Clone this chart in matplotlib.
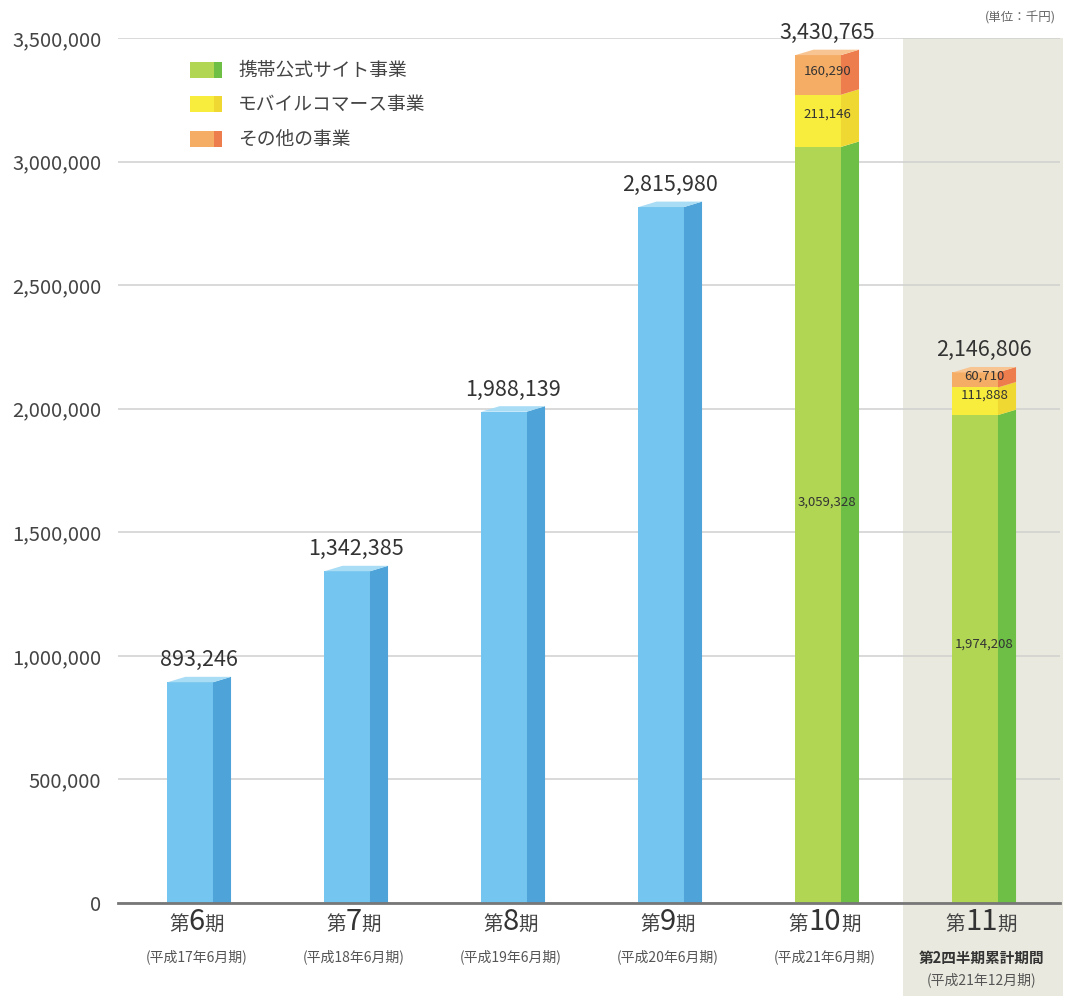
import matplotlib
matplotlib.use("Agg")
import matplotlib.pyplot as plt
from matplotlib.patches import Rectangle, Polygon
from matplotlib.offsetbox import TextArea, HPacker, VPacker, AnnotationBbox
from matplotlib.transforms import blended_transform_factory
from matplotlib.ticker import FuncFormatter

plt.rcParams['font.family'] = ['Noto Sans CJK JP', 'DejaVu Sans']

# ---- data (単位：千円) ----
periods = ["6", "7", "8", "9", "10", "11"]
period_notes = ["(平成17年6月期)", "(平成18年6月期)", "(平成19年6月期)",
                "(平成20年6月期)", "(平成21年6月期)", "(平成21年12月期)"]
extra_note_11 = "第2四半期累計期間"
totals = [893246, 1342385, 1988139, 2815980, 3430765, 2146806]
# segment breakdown for the last two periods
mobile_site = [3059328, 1974208]
mobile_commerce = [211146, 111888]
other_biz = [160290, 60710]
series_names = ["携帯公式サイト事業", "モバイルコマース事業", "その他の事業"]
unit_label = "(単位：千円)"
yticks = [0, 500000, 1000000, 1500000, 2000000, 2500000, 3000000, 3500000]

# ---- colours ----
blue = ("#74c5ef", "#4ea4d9", "#a9dcf5")
green = ("#b0d654", "#6dbf45", "#c8e37e")
yellow = ("#f8ec3c", "#efd832", "#fbf27a")
orange = ("#f5ad66", "#ee7d4e", "#f8c592")

W, H = 1065, 996
fig = plt.figure(figsize=(W / 100, H / 100), dpi=100)
ax = fig.add_axes([118 / W, 93 / H, (1060 - 118) / W, (903 - 38) / H])
ax.patch.set_visible(False)

ax.set_xlim(-0.5, 5.5)
ax.set_ylim(0, 3500000)
ax.set_yticks(yticks)
ax.yaxis.set_major_formatter(FuncFormatter(lambda v, p: f"{int(v):,}"))
ax.tick_params(axis='y', length=0, labelsize=14.5, labelcolor="#444444", pad=12)
ax.tick_params(axis='x', length=0, labelbottom=False)
ax.grid(axis='y', color="#cfcfcf", linewidth=1.1, zorder=1)
for s in ["top", "right", "left"]:
    ax.spines[s].set_visible(False)
ax.spines["bottom"].set_color("#777777")
ax.spines["bottom"].set_linewidth(2)
ax.spines["bottom"].set_zorder(5)
ax.set_axisbelow(True)

# shaded band behind the interim period
band_tf = blended_transform_factory(ax.transData, ax.transAxes)
ax.add_patch(Rectangle((4.5, -0.2), 1.02, 1.2, transform=band_tf, clip_on=False,
                       facecolor="#e9e9df", edgecolor="none", zorder=0))

# bar geometry (in category units)
f0, f1, s1 = -0.185, 0.105, 0.22
cap = 22000


def block(x, y0, y1, cols, top=False):
    ax.add_patch(Rectangle((x + f0, y0), f1 - f0, y1 - y0, facecolor=cols[0],
                           edgecolor="none", zorder=3))
    yb = y0 + cap if y0 > 0 else y0
    ax.add_patch(Polygon([(x + f1, y0), (x + s1, yb), (x + s1, y1 + cap), (x + f1, y1)],
                         closed=True, facecolor=cols[1], edgecolor="none", zorder=3))
    if top:
        ax.add_patch(Polygon([(x + f0, y1), (x + f1, y1), (x + s1, y1 + cap),
                              (x + f0 + (s1 - f1), y1 + cap)],
                             closed=True, facecolor=cols[2], edgecolor="none", zorder=3))


lab_x = (f0 + s1) / 2
for i in range(4):
    block(i, 0, totals[i], blue, top=True)

for j, i in enumerate([4, 5]):
    a = mobile_site[j]
    b = a + mobile_commerce[j]
    c = b + other_biz[j]
    block(i, 0, a, green)
    block(i, a, b, yellow)
    block(i, b, c, orange, top=True)
    ax.text(i + lab_x, a * 0.53, f"{mobile_site[j]:,}", ha='center', va='center',
            fontsize=9.5, color="#333333", zorder=6)
    ax.text(i + lab_x, (a + b) / 2 + 25000, f"{mobile_commerce[j]:,}", ha='center',
            va='center', fontsize=9.5, color="#333333", zorder=6)
    ax.text(i + lab_x, (b + c) / 2 + 15000, f"{other_biz[j]:,}", ha='center',
            va='center', fontsize=9.5, color="#333333", zorder=6)

for i, t in enumerate(totals):
    ax.text(i + lab_x, t + 45000, f"{t:,}", ha='center', va='bottom', fontsize=15.5,
            color="#333333", zorder=6, clip_on=False)

# category labels under the axis
for i, (p, note) in enumerate(zip(periods, period_notes)):
    head = HPacker(children=[
        TextArea("第", textprops=dict(fontsize=14, color="#444444")),
        TextArea(p, textprops=dict(fontsize=21, color="#333333")),
        TextArea("期", textprops=dict(fontsize=14, color="#444444")),
    ], align="baseline", pad=0, sep=0)
    note_box = TextArea(note, textprops=dict(fontsize=10, color="#555555"))
    if i == 5:
        extra = TextArea(extra_note_11, textprops=dict(fontsize=10.5, color="#333333",
                                                       fontweight="bold"))
        lower = VPacker(children=[extra, note_box], align="center", pad=0, sep=5)
    else:
        lower = note_box
    box = VPacker(children=[head, lower], align="center", pad=0, sep=9)
    ab = AnnotationBbox(box, (i, 0), xycoords=('data', 'axes fraction'),
                        xybox=(0, -3), boxcoords="offset points",
                        box_alignment=(0.5, 1), frameon=False, annotation_clip=False)
    ax.add_artist(ab)

# legend
leg_cols = [green[0], yellow[0], orange[0]]
leg_side = [green[1], yellow[1], orange[1]]
for k, (name, c, cs) in enumerate(zip(series_names, leg_cols, leg_side)):
    ytop = 62 + k * 34.5
    fig.add_artist(Rectangle((190 / W, 1 - (ytop + 16) / H), 24 / W, 16 / H,
                             transform=fig.transFigure, facecolor=c, edgecolor="none"))
    fig.add_artist(Rectangle((214 / W, 1 - (ytop + 16) / H), 8 / W, 16 / H,
                             transform=fig.transFigure, facecolor=cs, edgecolor="none"))
    fig.text(238 / W, 1 - (ytop + 8) / H, name, ha='left', va='center',
             fontsize=13.5, color="#444444")

fig.text(1056 / W, 1 - 18 / H, unit_label, ha='right', va='center', fontsize=9,
         color="#666666")

fig.savefig("out.png", dpi=100, facecolor="white")
